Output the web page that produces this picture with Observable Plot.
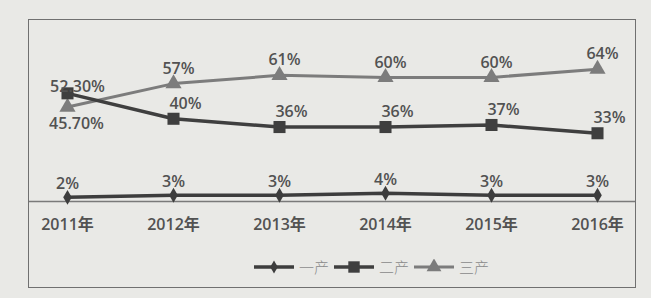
<!DOCTYPE html>
<html>
<head>
<meta charset="utf-8">
<script src="https://cdn.jsdelivr.net/npm/d3@7"></script>
<script src="https://cdn.jsdelivr.net/npm/@observablehq/plot@0.6"></script>
<style>
  html, body { margin: 0; padding: 0; background: #e9e9e6; }
  #wrap { position: relative; width: 651px; height: 298px; background: #e9e9e6; overflow: hidden; }
  #wrap svg { position: absolute; left: 0; top: 0; }
  #border { position: absolute; left: 28px; top: 19px; width: 606px; height: 267px; border: 1.5px solid #707070; pointer-events: none; }
  #legend { position: absolute; left: 253px; top: 256px; display: flex; align-items: center; font-family: "Noto Sans CJK SC", sans-serif; font-size: 15px; color: #8a8a8a; font-weight: 300; }
  #legend .item { display: flex; align-items: center; margin-right: 4px; }
  #legend svg { position: static; margin-right: 4px; }
</style>
</head>
<body>
<div id="wrap">
  <div id="chart"></div>
  <div id="border"></div>
  <div id="legend"></div>
</div>
<script>
const years = ["2011年", "2012年", "2013年", "2014年", "2015年", "2016年"];
const primary = [2, 3, 3, 4, 3, 3];
const secondary = [52.3, 40, 36, 36, 37, 33];
const tertiary = [45.7, 57, 61, 60, 60, 64];
const primaryLabels = ["2%", "3%", "3%", "4%", "3%", "3%"];
const secondaryLabels = ["52.30%", "40%", "36%", "36%", "37%", "33%"];
const tertiaryLabels = ["45.70%", "57%", "61%", "60%", "60%", "64%"];
const seriesNames = ["一产", "二产", "三产"];

const rows = (vals, labs) => years.map((y, i) => ({year: y, value: vals[i], label: labs[i], first: i === 0}));
const d1 = rows(primary, primaryLabels);
const d2 = rows(secondary, secondaryLabels);
const d3r = rows(tertiary, tertiaryLabels);

const c1 = "#3d3d3d", c2 = "#3f3f3f", c3 = "#7c7c7c";
const font = "'Open Sans', 'Noto Sans CJK SC', sans-serif";
const txt = "#525252";

const chart = Plot.plot({
  width: 651,
  height: 298,
  marginLeft: 28,
  marginRight: 15,
  marginTop: 19,
  marginBottom: 97,
  style: {background: "transparent", fontFamily: font, fontSize: "16px", fontWeight: 600, color: txt},
  x: {type: "point", domain: years, padding: 0.36, label: null, tickSize: 0, tickPadding: 17},
  y: {domain: [0, 88], axis: null},
  marks: [
    Plot.ruleY([0], {stroke: "#7a7a7a", strokeWidth: 1.5}),
    Plot.line(d3r, {x: "year", y: "value", stroke: c3, strokeWidth: 3}),
    Plot.line(d2, {x: "year", y: "value", stroke: c2, strokeWidth: 3.5}),
    Plot.line(d1, {x: "year", y: "value", stroke: c1, strokeWidth: 3.5}),
    Plot.dot(d3r, {x: "year", y: "value", symbol: "triangle", r: 6, fill: c3, stroke: "none"}),
    Plot.dot(d2, {x: "year", y: "value", symbol: "square", r: 6.8, fill: c2, stroke: "none"}),
    Plot.dot(d1, {x: "year", y: "value", symbol: "diamond", r: 4.5, fill: c1, stroke: "none"}),
    Plot.text(d1, {x: "year", y: "value", text: "label", dy: -13, fill: txt, fontSize: 16}),
    Plot.text(d2, {filter: d => !d.first, x: "year", y: "value", text: "label", dx: 12, dy: -15, fill: txt, fontSize: 16}),
    Plot.text(d2, {filter: d => d.first, x: "year", y: "value", text: "label", dx: 10, dy: -6, fill: txt, fontSize: 16}),
    Plot.text(d3r, {filter: d => !d.first, x: "year", y: "value", text: "label", dx: 5, dy: -15, fill: txt, fontSize: 16}),
    Plot.text(d3r, {filter: d => d.first, x: "year", y: "value", text: "label", dx: 9, dy: 17, fill: txt, fontSize: 16})
  ]
});
document.getElementById("chart").appendChild(chart);

// legend
const legend = d3.select("#legend");
const symbols = [d3.symbolDiamond, d3.symbolSquare, d3.symbolTriangle];
const sizes = [50, 130, 95];
const colors = [c1, c2, c3];
seriesNames.forEach((name, i) => {
  const item = legend.append("div").attr("class", "item");
  const s = item.append("svg").attr("width", 42).attr("height", 16);
  s.append("line").attr("x1", 1).attr("x2", 41).attr("y1", 8).attr("y2", 8)
    .attr("stroke", colors[i]).attr("stroke-width", i === 2 ? 3 : 3.5);
  s.append("path").attr("transform", "translate(21,8)")
    .attr("d", d3.symbol(symbols[i], sizes[i])()).attr("fill", colors[i]);
  item.append("span").text(name);
});
</script>
</body>
</html>
